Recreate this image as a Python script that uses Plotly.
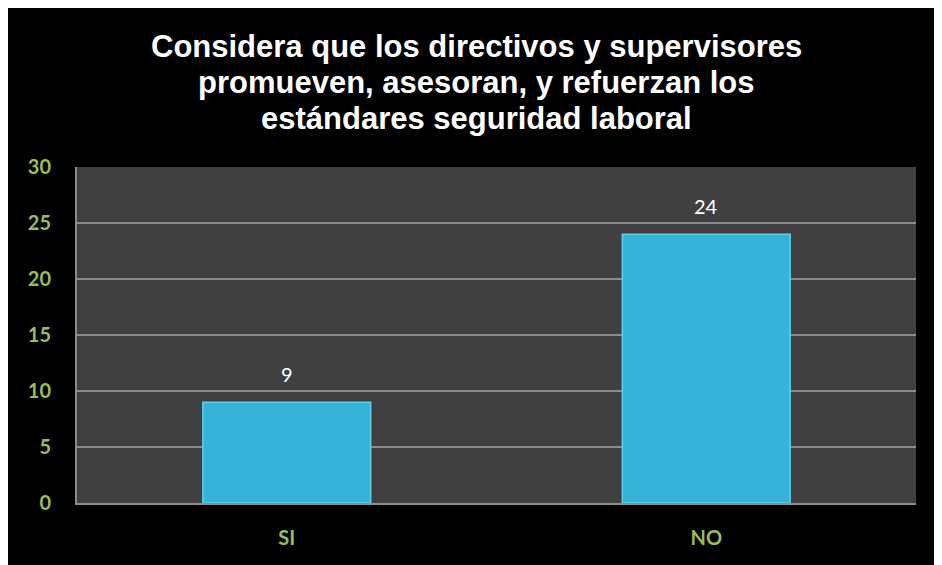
import plotly.graph_objects as go

categories = ["SI", "NO"]
values = [9, 24]
y_ticks = [0, 5, 10, 15, 20, 25, 30]
title_lines = ["Considera que los directivos y supervisores",
               "promueven, asesoran, y refuerzan los",
               "estándares seguridad laboral"]

W, H = 934, 557
L, R, T, B = 69, 26, 159, 62
pw, ph = W - L - R, H - T - B

fig = go.Figure()
fig.add_trace(go.Bar(
    x=categories, y=values, width=0.4,
    marker=dict(color="#37B3DA", line=dict(color="#5CD3EE", width=1.5)),
    hoverinfo="skip",
))

for c, v in zip(categories, values):
    fig.add_annotation(x=c, y=v, text=str(v), showarrow=False,
                       yanchor="middle", yshift=28,
                       font=dict(family="Lato", size=20, color="white"))

# title as three lines (tighter line spacing than plotly's default)
for i, line in enumerate(title_lines):
    yc = 39 + i * 35.5
    fig.add_annotation(xref="paper", yref="paper",
                       x=(468 - L) / pw, y=1 + (T - yc) / ph,
                       xanchor="center", yanchor="middle", showarrow=False,
                       text=line,
                       font=dict(family="Liberation Sans", size=31, color="white", weight="bold"))

fig.update_layout(
    width=W, height=H,
    margin=dict(l=L, r=R, t=T, b=B),
    paper_bgcolor="black", plot_bgcolor="#404040",
    showlegend=False,
    xaxis=dict(showgrid=False, showline=True, linecolor="#8c8c8c", linewidth=2,
               tickfont=dict(family="Lato", size=20, color="#9BBB59", weight="bold"),
               ticklabelstandoff=16, fixedrange=True),
    yaxis=dict(range=[0, 30], tickvals=y_ticks, showgrid=True, gridcolor="#8c8c8c",
               gridwidth=1.5, showline=True, linecolor="#8c8c8c", linewidth=2,
               zeroline=False,
               tickfont=dict(family="Lato", size=20, color="#9BBB59", weight="bold"),
               ticklabelstandoff=20, fixedrange=True),
    bargap=0.6,
)

fig.write_html("out.html")
